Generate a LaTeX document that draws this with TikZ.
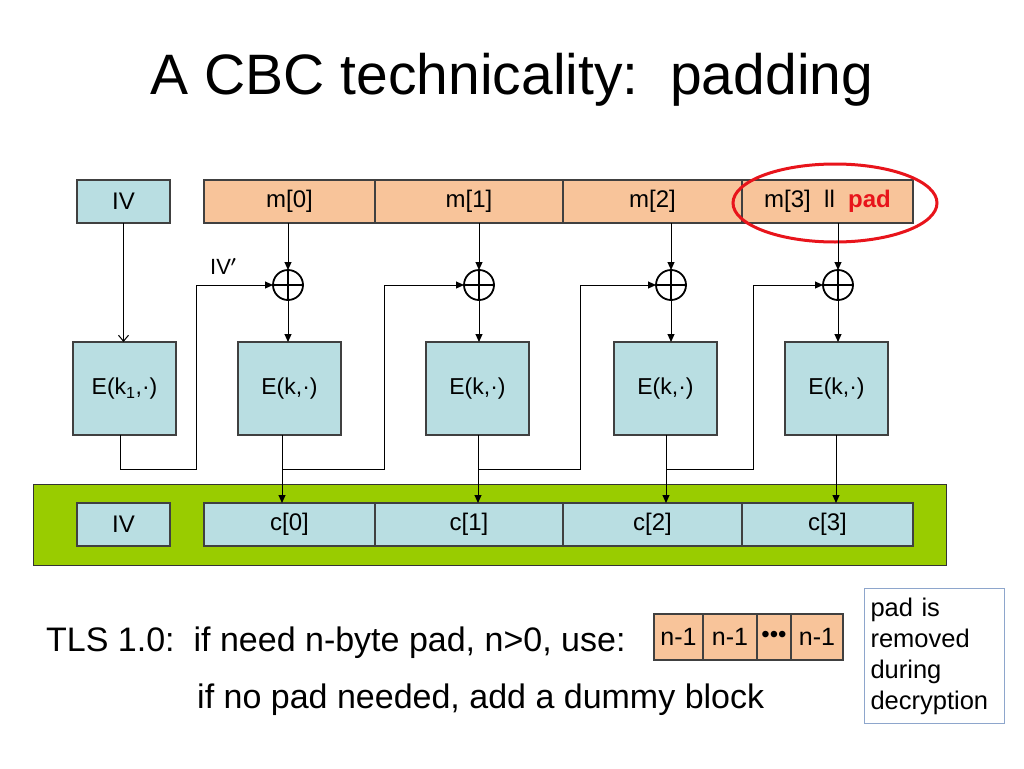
\documentclass[tikz,border=0pt]{standalone}
\usepackage{fontspec}
\setmainfont{Liberation Sans}
\usetikzlibrary{positioning}
\usetikzlibrary{shapes.geometric, arrows, arrows.meta}
\definecolor{boxblue}{HTML}{B9DEE2}
\definecolor{boxorange}{HTML}{F8C49A}
\definecolor{bandgreen}{HTML}{99CC00}
\definecolor{noteblue}{HTML}{8EA6CC}
\definecolor{padred}{HTML}{E8141B}
\tikzstyle{arrow} = [line width=1pt,-{Triangle[length=8pt,width=7pt]}]
\tikzstyle{openarrow} = [line width=1pt,-{Straight Barb[length=6pt,width=10pt]}]
\tikzstyle{bluebox} = [draw=black!75,fill=boxblue,line width=1.3pt,inner sep=0pt,outer sep=0pt,minimum height=43pt,font=\fontsize{24}{28}\selectfont]
\tikzstyle{orangebox} = [draw=black!75,fill=boxorange,line width=1.3pt,inner sep=0pt,outer sep=0pt,minimum height=43pt,font=\fontsize{24}{28}\selectfont]
\tikzstyle{ebox} = [bluebox,minimum width=103pt,minimum height=93pt,anchor=north west,font=\fontsize{23}{27}\selectfont]
\tikzstyle{xorc} = [circle,draw,line width=1.8pt,minimum size=30pt,inner sep=0pt,outer sep=0pt]

\begin{document}
\begin{tikzpicture}[x=1pt,y=-1pt]
\useasboundingbox (0,0) rectangle (1024,768);

%Title
\node[anchor=base] (title) at (512,94) {\fontsize{57}{68}\selectfont A CBC technicality:\ \ padding};

%Plaintext row
\node[bluebox,minimum width=93pt,anchor=north west] (IVtop) at (77,180) {IV};
\node[orangebox,minimum width=171pt,anchor=north west] (M0) at (204,180) {m[0]};
\node[orangebox,minimum width=188pt,right=0pt of M0] (M1) {m[1]};
\node[orangebox,minimum width=179pt,right=0pt of M1] (M2) {m[2]};
\node[orangebox,minimum width=171pt,right=0pt of M2] (M3) {m[3]\ \ ll\ \ \textcolor{padred}{\textbf{pad}}};
\draw[padred,line width=3pt] (835,203) ellipse (102pt and 39pt);

%Xor gates
\node[xorc] (X0) at (288,285) {};
\node[xorc] (X1) at (479,285) {};
\node[xorc] (X2) at (671,285) {};
\node[xorc] (X3) at (838,285) {};
\foreach \g in {X0,X1,X2,X3}
  \draw[line width=1.8pt] (\g.north) -- (\g.south) (\g.west) -- (\g.east);
\node[font=\fontsize{22}{26}\selectfont,anchor=base west,inner sep=0pt] (IVp) at (210,274) {IV{\boldmath$'$}};

%Block cipher
\node[ebox] (Ek1) at (73,342) {E(k\textsubscript{1},·)};
\node[ebox] (E0) at (238,342) {E(k,·)};
\node[ebox] (E1) at (426,342) {E(k,·)};
\node[ebox] (E2) at (614,342) {E(k,·)};
\node[ebox] (E3) at (785,342) {E(k,·)};

%Ciphertext row
\node[fill=bandgreen,draw=black!80,line width=1pt,minimum width=913pt,minimum height=81pt,anchor=north west,inner sep=0pt,outer sep=0pt] (band) at (33,484) {};
\node[bluebox,minimum width=93pt,anchor=north west] (IVbot) at (77,503) {IV};
\node[bluebox,minimum width=171pt,anchor=north west] (C0) at (204,503) {c[0]};
\node[bluebox,minimum width=188pt,right=0pt of C0] (C1) {c[1]};
\node[bluebox,minimum width=179pt,right=0pt of C1] (C2) {c[2]};
\node[bluebox,minimum width=171pt,right=0pt of C2] (C3) {c[3]};

%Coordinates
\coordinate (o0) at (120,435);
\coordinate (o1) at (282,435);
\coordinate (o2) at (478,435);
\coordinate (o3) at (666,435);
\coordinate (o4) at (836,435);
\coordinate (r1) at (196,469);
\coordinate (r2) at (384,469);
\coordinate (r3) at (580,469);
\coordinate (r4) at (753,469);

%Lines
\draw[openarrow] (IVtop.south) -- (IVtop.south |- Ek1.north);
\draw[arrow] (X0 |- M0.south) -- (X0.north);
\draw[arrow] (X1 |- M1.south) -- (X1.north);
\draw[arrow] (X2 |- M2.south) -- (X2.north);
\draw[arrow] (X3 |- M3.south) -- (X3.north);
\draw[arrow] (X0.south) -- (X0.south |- E0.north);
\draw[arrow] (X1.south) -- (X1.south |- E1.north);
\draw[arrow] (X2.south) -- (X2.south |- E2.north);
\draw[arrow] (X3.south) -- (X3.south |- E3.north);
\draw[arrow] (o0) |- (r1) |- (X0.west);
\draw[arrow] (o1 |- r2) -- (r2) |- (X1.west);
\draw[arrow] (o2 |- r3) -- (r3) |- (X2.west);
\draw[arrow] (o3 |- r4) -- (r4) |- (X3.west);
\draw[arrow] (o1) -- (o1 |- C0.north);
\draw[arrow] (o2) -- (o2 |- C1.north);
\draw[arrow] (o3) -- (o3 |- C2.north);
\draw[arrow] (o4) -- (o4 |- C3.north);

%Padding
\node[anchor=base west,inner sep=0pt,font=\fontsize{34}{40}\selectfont] (tls) at (46,651) {TLS 1.0:\ \ if need n-byte pad, n>0, use:};
\node[anchor=base west,inner sep=0pt,font=\fontsize{34}{40}\selectfont] (dummy) at (197,708) {if no pad needed, add a dummy block};
\node[orangebox,minimum width=49pt,minimum height=46pt,anchor=north west,font=\fontsize{25}{29}\selectfont] (N0) at (654,614) {n-1};
\node[orangebox,minimum width=54pt,minimum height=46pt,right=0pt of N0,font=\fontsize{25}{29}\selectfont] (N1) {n-1};
\node[orangebox,minimum width=34pt,minimum height=46pt,right=0pt of N1,font=\fontsize{24}{28}\selectfont] (Nd) {\textbullet\textbullet\textbullet};
\node[orangebox,minimum width=52pt,minimum height=46pt,right=0pt of Nd,font=\fontsize{25}{29}\selectfont] (N3) {n-1};
\node[draw=noteblue,line width=1pt,anchor=north west,minimum width=140pt,minimum height=135pt,text width=128pt,align=left,inner xsep=6pt,inner ysep=5pt,font=\fontsize{25.5}{31}\selectfont] (note) at (864,588) {pad is\\removed\\during\\decryption};

\end{tikzpicture}
\end{document}
